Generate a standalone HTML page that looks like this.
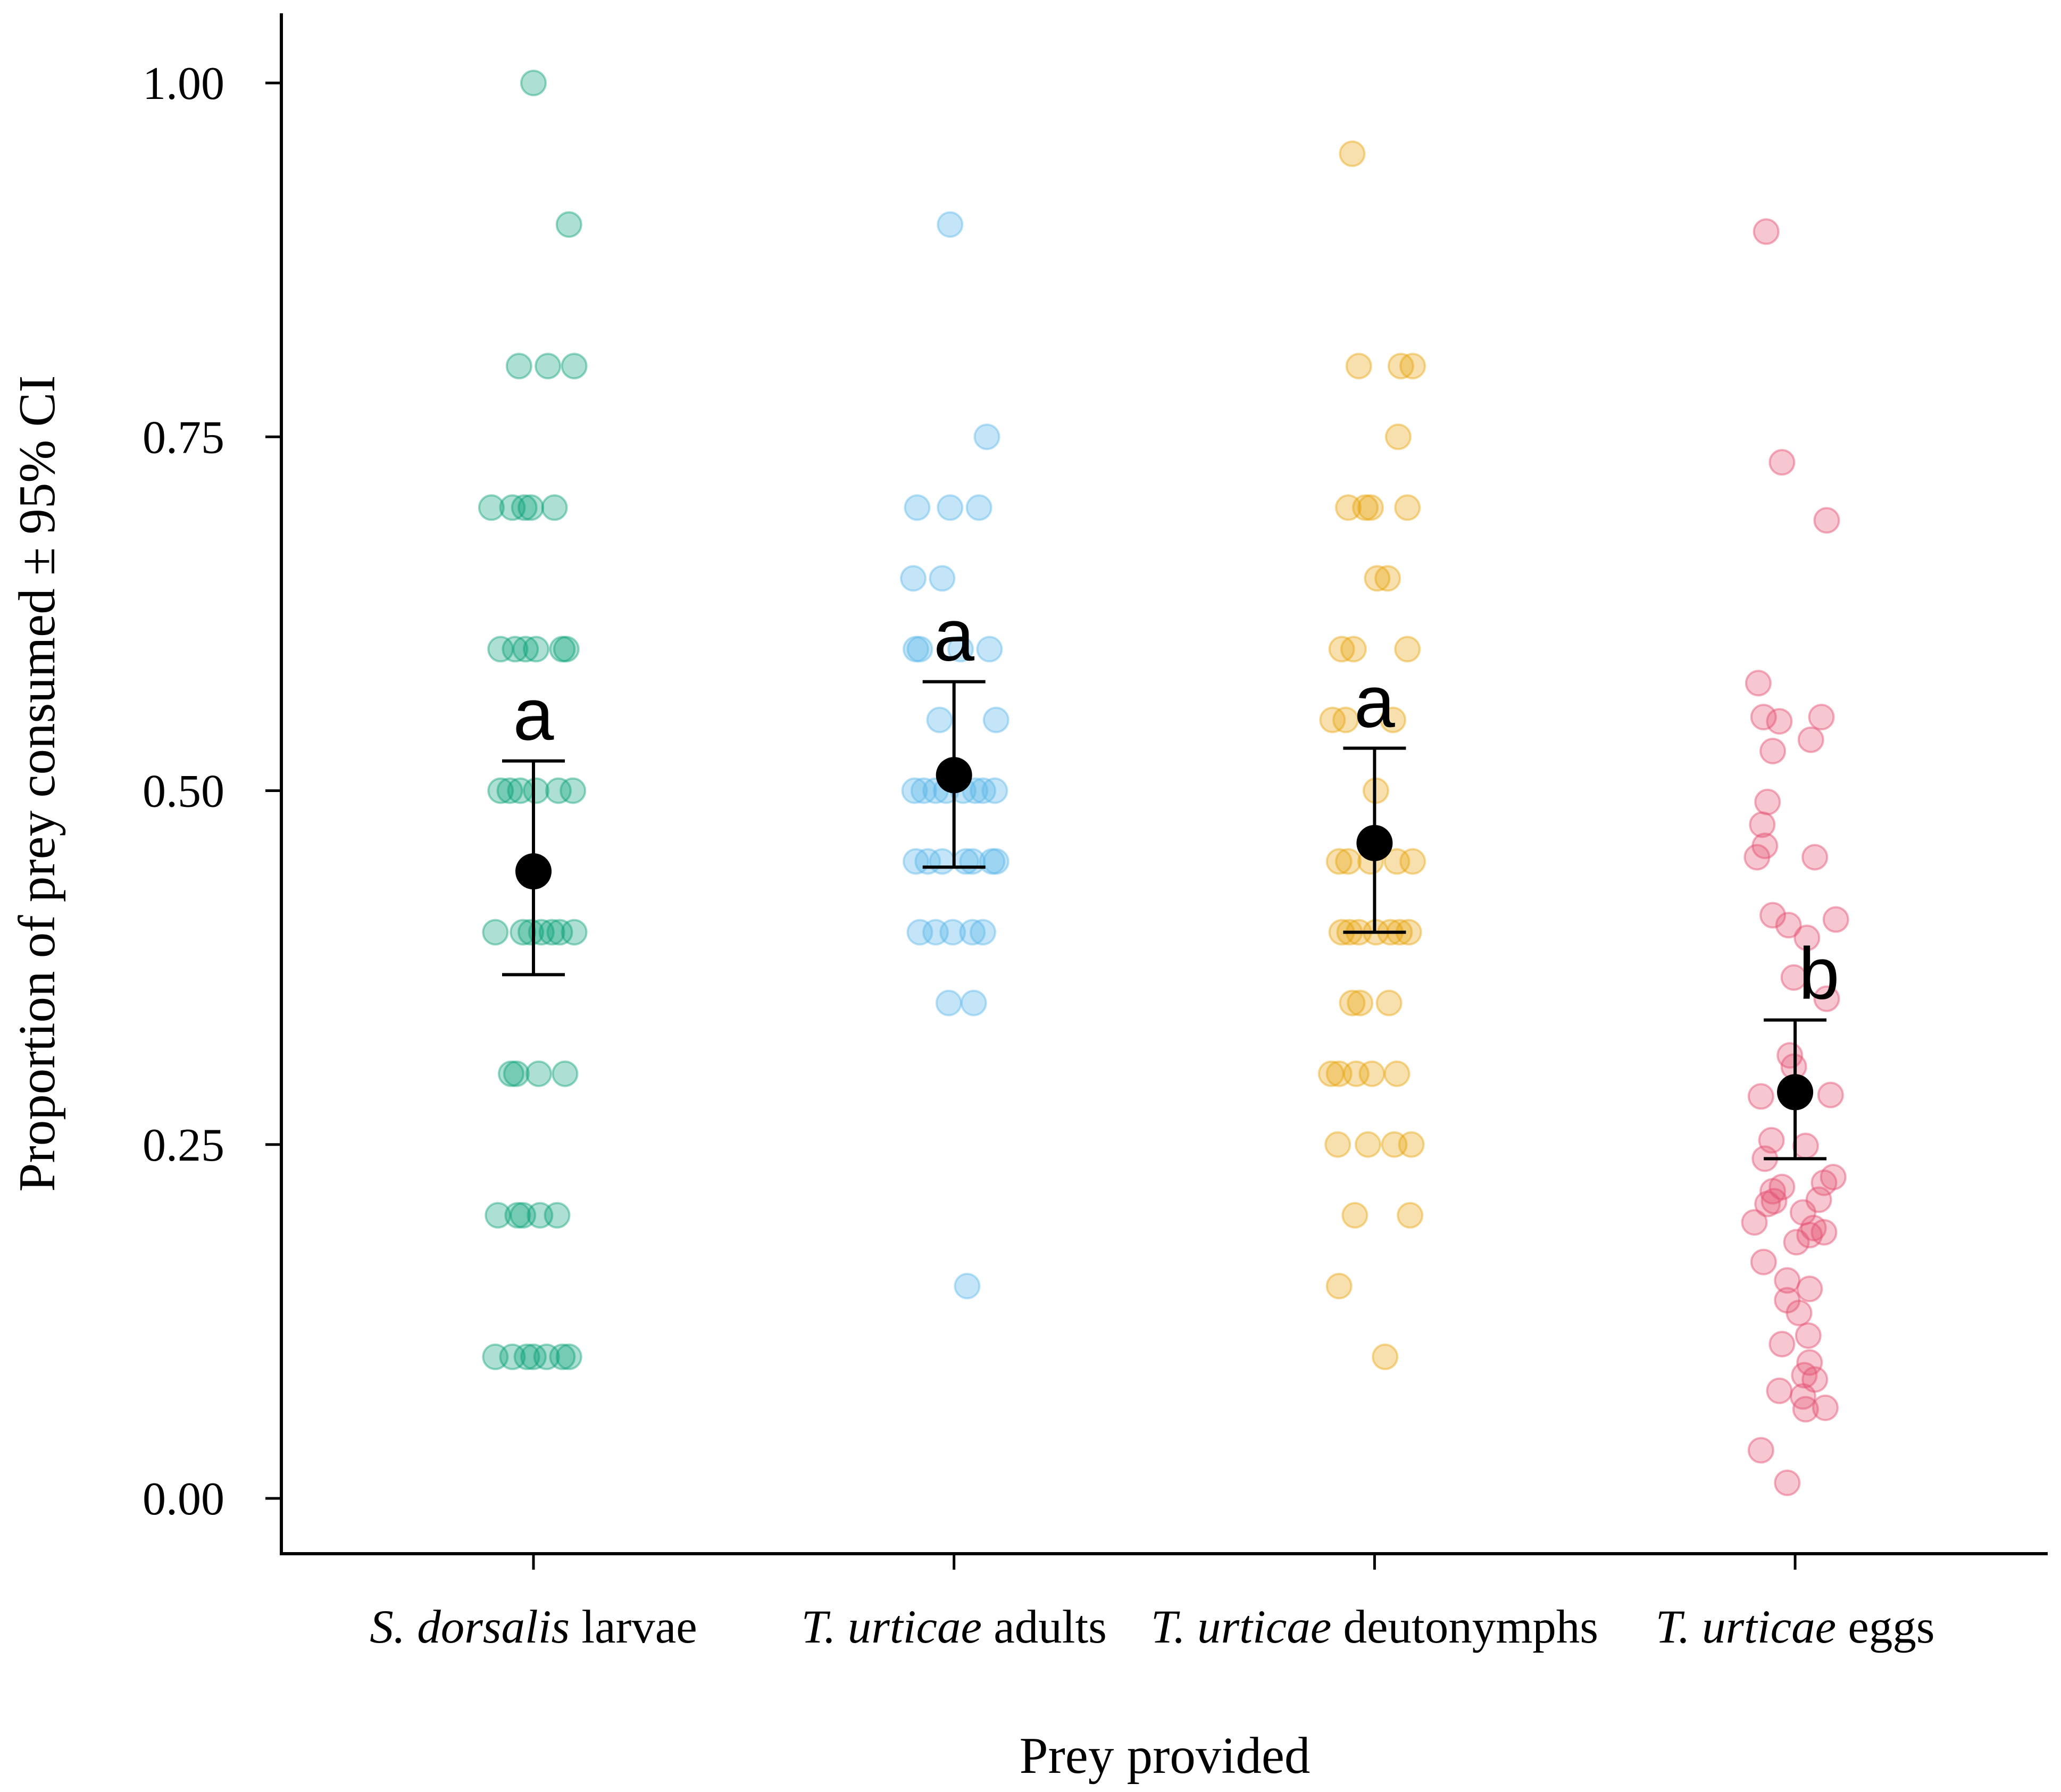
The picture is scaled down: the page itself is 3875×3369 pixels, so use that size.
<!DOCTYPE html>
<html><head><meta charset="utf-8"><style>
html,body{margin:0;padding:0;background:#fff}
svg{display:block}
.tk{font-family:"Liberation Serif",serif;font-size:88px;fill:#000}
.xl{font-family:"Liberation Serif",serif;font-size:89px;fill:#000}
.ti{font-family:"Liberation Serif",serif;font-size:97px;fill:#000}
.lt{font-family:"Liberation Sans",sans-serif;font-size:138px;fill:#000}
</style></head><body>
<svg id="chart" width="3875" height="3369" viewBox="0 0 3875 3369" xmlns="http://www.w3.org/2000/svg">
<g id="points"></g>
<g id="summary"></g>
<g id="axes"></g>
</svg>
<script>
const categories=["S. dorsalis larvae","T. urticae adults","T. urticae deutonymphs","T. urticae eggs"];
const yTicks=[0,0.25,0.5,0.75,1];
const yTickLabels=["0.00","0.25","0.50","0.75","1.00"];
const means=[0.443,0.511,0.463,0.287];
const ciLow=[0.370,0.446,0.400,0.240];
const ciHigh=[0.521,0.577,0.530,0.338];
const letters=["a","a","a","b"];
// raw points: [jitter (display offset units), value]
const g1=[[0,1.0],[27,0.9],[-11,0.8],[11,0.8],[31,0.8],[-32,0.7],[-16,0.7],[-7,0.7],[-2,0.7],[16,0.7],[-25,0.6],[-14,0.6],[-6,0.6],[2,0.6],[22,0.6],[25,0.6],[-25,0.5],[-18,0.5],[-10,0.5],[2,0.5],[19,0.5],[30,0.5],[-29,0.4],[-8,0.4],[-2,0.4],[6,0.4],[14,0.4],[20,0.4],[31,0.4],[-17,0.3],[-13,0.3],[4,0.3],[24,0.3],[-27,0.2],[-12,0.2],[-8,0.2],[5,0.2],[18,0.2],[-29,0.1],[-16,0.1],[-5,0.1],[0,0.1],[10,0.1],[22,0.1],[27,0.1]];
const g2=[[-3,0.9],[25,0.75],[-28,0.7],[-3,0.7],[19,0.7],[-31,0.65],[-9,0.65],[-29,0.6],[-26,0.6],[5,0.6],[27,0.6],[-11,0.55],[32,0.55],[-30,0.5],[-23,0.5],[-14,0.5],[-6,0.5],[7,0.5],[16,0.5],[22,0.5],[31,0.5],[-29,0.45],[-20,0.45],[-9,0.45],[9,0.45],[14,0.45],[29,0.45],[32,0.45],[-26,0.4],[-14,0.4],[-1,0.4],[14,0.4],[22,0.4],[-4,0.35],[15,0.35],[10,0.15]];
const g3=[[-17,0.95],[-12,0.8],[20,0.8],[29,0.8],[18,0.75],[-20,0.7],[-7,0.7],[-3,0.7],[25,0.7],[2,0.65],[10,0.65],[-25,0.6],[-16,0.6],[25,0.6],[-32,0.55],[-22,0.55],[14,0.55],[1,0.5],[-27,0.45],[-20,0.45],[-3,0.45],[17,0.45],[29,0.45],[-25,0.4],[-19,0.4],[-12,0.4],[1,0.4],[12,0.4],[19,0.4],[26,0.4],[-17,0.35],[-11,0.35],[11,0.35],[-33,0.3],[-27,0.3],[-14,0.3],[-2,0.3],[17,0.3],[-28,0.25],[-5,0.25],[15,0.25],[28,0.25],[-15,0.2],[27,0.2],[-27,0.15],[8,0.1]];
const g4=[[-22,0.895],[-10,0.732],[24,0.691],[-28,0.576],[-24,0.552],[-12,0.549],[-17,0.528],[20,0.552],[12,0.536],[-21,0.492],[-25,0.476],[-23,0.461],[-29,0.453],[15,0.453],[-17,0.412],[-5,0.405],[31,0.409],[9,0.396],[-1,0.368],[24,0.353],[-4,0.313],[-1,0.305],[-26,0.284],[27,0.285],[-18,0.253],[8,0.249],[-23,0.240],[29,0.227],[22,0.223],[-17,0.217],[-10,0.220],[18,0.211],[-21,0.208],[-16,0.210],[6,0.202],[-31,0.195],[1,0.181],[14,0.191],[22,0.188],[11,0.186],[-24,0.167],[-6,0.154],[11,0.148],[-6,0.140],[3,0.131],[10,0.115],[-10,0.109],[11,0.096],[7,0.087],[15,0.084],[-12,0.076],[6,0.072],[8,0.063],[23,0.064],[-26,0.034],[-6,0.011]];
const groups=[g1,g2,g3,g4];
const fills=["rgba(0,158,115,0.32)","rgba(86,180,233,0.35)","rgba(230,159,0,0.32)","rgba(228,80,112,0.32)"];
const strokes=["rgba(0,158,115,0.4)","rgba(86,180,233,0.4)","rgba(230,159,0,0.4)","rgba(228,80,112,0.45)"];

const NS="http://www.w3.org/2000/svg";
const S=3875/1568;
const plot={left:529,right:3850,top:25,bottom:2921};
const xFirst=1003, step=790.7;
function xScale(i){return xFirst+i*step;}
function yScale(v){return 2817-v*2661;}
function mk(tag,attrs,parent){const e=document.createElementNS(NS,tag);for(const k in attrs)e.setAttribute(k,attrs[k]);parent.appendChild(e);return e;}
const P=document.getElementById('points'),SM=document.getElementById('summary'),A=document.getElementById('axes');

groups.forEach((g,i)=>{g.forEach(p=>{
  const c=mk('circle',{cx:xScale(i)+p[0]*S,cy:yScale(p[1]),r:23,fill:fills[i],stroke:strokes[i],'stroke-width':4},P);
  
  
});});

means.forEach((m,i)=>{
  const x=xScale(i);
  const l=mk('line',{x1:x,x2:x,y1:yScale(ciLow[i]),y2:yScale(ciHigh[i]),stroke:'#000','stroke-width':6},SM);
  
  
  [ciLow[i],ciHigh[i]].forEach(v=>{
    const c=mk('line',{x1:x-59,x2:x+59,y1:yScale(v),y2:yScale(v),stroke:'#000','stroke-width':6},SM);
    
    
  });
  const d=mk('circle',{cx:x,cy:yScale(m),r:34,fill:'#000'},SM);
  
  
  const lx=i===3?x+45:x;
  const t=mk('text',{x:lx,y:yScale(ciHigh[i])-40,'text-anchor':'middle',class:'lt'},SM);
  t.textContent=letters[i];
  
  
});

let e=mk('line',{x1:plot.left,x2:plot.left,y1:plot.top,y2:plot.bottom+3,stroke:'#000','stroke-width':6},A);

e=mk('line',{x1:plot.left-3,x2:plot.right,y1:plot.bottom,y2:plot.bottom,stroke:'#000','stroke-width':6},A);

yTicks.forEach((v,k)=>{
  const t=mk('line',{x1:plot.left-30,x2:plot.left,y1:yScale(v),y2:yScale(v),stroke:'#000','stroke-width':5},A);
  
  const l=mk('text',{x:plot.left-107,y:yScale(v)+30,'text-anchor':'end',class:'tk'},A);
  l.textContent=yTickLabels[k];
  
});
categories.forEach((c,i)=>{
  const x=xScale(i);
  const t=mk('line',{x1:x,x2:x,y1:plot.bottom,y2:plot.bottom+30,stroke:'#000','stroke-width':5},A);
  
  const l=mk('text',{x:x,y:3088,'text-anchor':'middle',class:'xl'},A);
  const parts=c.split(' ');
  const it=mk('tspan',{'font-style':'italic'},l);it.textContent=parts[0]+' '+parts[1];
  const rest=mk('tspan',{},l);rest.textContent=' '+parts.slice(2).join(' ');
  
});
e=mk('text',{x:2190,y:3333,'text-anchor':'middle',class:'ti'},A);
e.textContent='Prey provided';

e=mk('text',{x:0,y:0,'text-anchor':'middle',class:'ti',transform:'translate(102,1473) rotate(-90)'},A);
e.textContent='Proportion of prey consumed \u00b1 95% CI';

</script>
</body></html>
